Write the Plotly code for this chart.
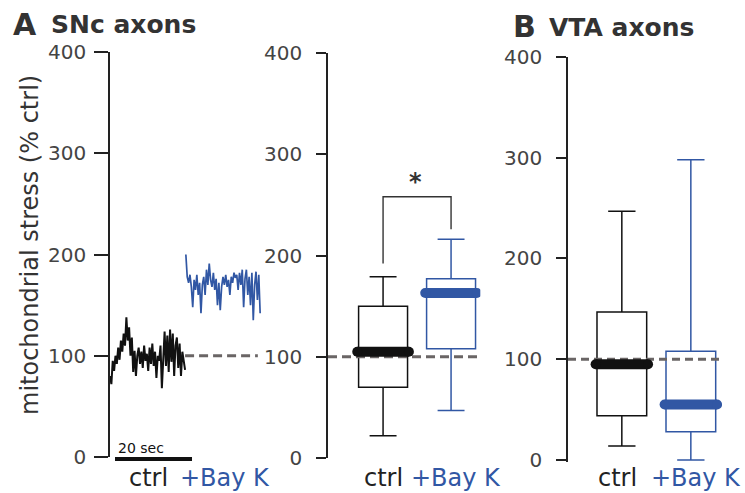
import plotly.graph_objects as go

# ---------------- data ----------------
# Panel A left: example traces (time in s, value in % ctrl)
ctrl_trace = [80, 72, 95, 85, 100, 92,
              108, 96, 115, 104, 122, 110, 138,
              115, 128, 100, 118, 84, 105,
              80, 100, 108, 92, 104, 88, 110, 95, 102, 85, 108, 92, 112, 90, 104, 78, 100, 95, 110, 68,
              98, 124, 90, 120, 84, 126, 94, 122, 80, 110, 118,
              88, 112, 80, 104, 92, 86]
bayk_trace = [200, 178, 172, 180, 168, 148,
              175, 165, 180, 160, 172, 142, 170,
              178, 160, 185, 170, 191, 175, 168,
              182, 165, 176, 150, 172, 145, 168,
              178, 170, 180, 168, 175, 160, 178, 172, 182,
              177, 180, 165, 182, 170, 185, 148,
              176, 185, 160, 178, 150, 182, 135,
              170, 183, 155, 180, 142]
ctrl_t_start, ctrl_t_end = 0.0, 19.5
bayk_t_start, bayk_t_end = 19.7, 39.0
ref_line_A_t = [19.5, 38.4]
scale_bar_t = [1.3, 21.3]
scale_bar_label = "20 sec"

# Box statistics
groups = ["ctrl", "+Bay K"]
snc_ctrl = dict(q1=70, median=105, q3=150, lowerfence=22, upperfence=179)
snc_bayk = dict(q1=108, median=163, q3=177, lowerfence=47, upperfence=216)
vta_ctrl = dict(q1=44, median=95, q3=147, lowerfence=14, upperfence=247)
vta_bayk = dict(q1=28, median=55, q3=108, lowerfence=0, upperfence=298)

sig_bracket_x = [0, 0, 1, 1]
sig_bracket_y = [192, 258, 258, 226]
sig_star_xy = (0.47, 273)

y_ticks = [0, 100, 200, 300, 400]
ref_value = 100

# ---------------- style ----------------
FONT = "DejaVu Sans, Liberation Sans, Arial, sans-serif"
BLACK = "#111111"
BLUE = "#3157a4"
GREY_DASH = "#6a6565"
TICK_COL = "#444444"
W, H = 745, 493

def px_x(p):
    return p / W

def px_y(p):
    return 1 - p / H

fig = go.Figure()

def tseries(vals, t0, t1):
    n = len(vals)
    return [t0 + (t1 - t0) * i / (n - 1) for i in range(n)]

# Panel A traces
fig.add_trace(go.Scatter(x=tseries(ctrl_trace, ctrl_t_start, ctrl_t_end), y=ctrl_trace,
                         mode="lines", line=dict(color=BLACK, width=2),
                         xaxis="x", yaxis="y", hoverinfo="skip"))
fig.add_trace(go.Scatter(x=tseries(bayk_trace, bayk_t_start, bayk_t_end), y=bayk_trace,
                         mode="lines", line=dict(color=BLUE, width=1.7),
                         xaxis="x", yaxis="y", hoverinfo="skip"))
fig.add_trace(go.Scatter(x=ref_line_A_t, y=[ref_value] * 2, mode="lines",
                         line=dict(color=GREY_DASH, width=3.2, dash="9px,5px"),
                         xaxis="x", yaxis="y", hoverinfo="skip"))

def add_box(stats, xpos, color, xa, ya):
    fig.add_trace(go.Box(x=[xpos], q1=[stats["q1"]], median=[stats["median"]], q3=[stats["q3"]],
                         lowerfence=[stats["lowerfence"]], upperfence=[stats["upperfence"]],
                         width=0.72, whiskerwidth=0.55, fillcolor="white",
                         line=dict(color=color, width=1.5), boxpoints=False,
                         xaxis=xa, yaxis=ya, hoverinfo="skip"))

def add_median(stats, xpos, color, xa, ya):
    fig.add_trace(go.Scatter(x=[xpos - 0.38, xpos + 0.38], y=[stats["median"]] * 2,
                             mode="lines+markers", line=dict(color=color, width=10),
                             marker=dict(color=color, size=10),
                             xaxis=xa, yaxis=ya, hoverinfo="skip"))

# Panel A boxes
add_box(snc_ctrl, 0, BLACK, "x2", "y2")
add_box(snc_bayk, 1, BLUE, "x2", "y2")
fig.add_trace(go.Scatter(x=[-0.81, 1.43], y=[ref_value] * 2, mode="lines",
                         line=dict(color=GREY_DASH, width=3.2, dash="9px,5px"),
                         xaxis="x2", yaxis="y2", hoverinfo="skip"))
add_median(snc_ctrl, 0, BLACK, "x2", "y2")
add_median(snc_bayk, 1, BLUE, "x2", "y2")
fig.add_trace(go.Scatter(x=sig_bracket_x, y=sig_bracket_y, mode="lines",
                         line=dict(color="#333333", width=1.4),
                         xaxis="x2", yaxis="y2", hoverinfo="skip"))

# Panel B boxes
add_box(vta_ctrl, 0, BLACK, "x3", "y3")
add_box(vta_bayk, 1, BLUE, "x3", "y3")
fig.add_trace(go.Scatter(x=[-0.78, 1.45], y=[ref_value] * 2, mode="lines",
                         line=dict(color=GREY_DASH, width=3.2, dash="8px,5px"),
                         xaxis="x3", yaxis="y3", hoverinfo="skip"))
add_median(vta_ctrl, 0, BLACK, "x3", "y3")
add_median(vta_bayk, 1, BLUE, "x3", "y3")

# ---------------- axes ----------------
def yax(domain, rng, ticklen, anchor, standoff):
    return dict(domain=domain, range=rng, anchor=anchor, showline=True, linecolor="#222222",
                linewidth=1.6, ticks="outside", ticklen=ticklen, tickwidth=1.6, tickcolor="#222222",
                tickvals=y_ticks, tickfont=dict(family=FONT, size=20, color=TICK_COL),
                showgrid=False, zeroline=False, fixedrange=True, ticklabelstandoff=standoff,
                automargin=False)

def xax(domain, rng, anchor):
    return dict(domain=domain, range=rng, anchor=anchor, visible=False, showgrid=False,
                zeroline=False, fixedrange=True, automargin=False)

fig.update_layout(
    template="none",
    width=W, height=H, autosize=False,
    margin=dict(l=0, r=0, t=0, b=0, pad=0, autoexpand=False),
    paper_bgcolor="white", plot_bgcolor="rgba(0,0,0,0)",
    showlegend=False,
    xaxis=xax([px_x(110), px_x(264)], [0, 40], "y"),
    yaxis=yax([px_y(457), px_y(52)], [0, 400], 14, "x", 4),
    xaxis2=xax([px_x(328), px_x(480.3)], [-0.81, 1.43], "y2"),
    yaxis2=yax([px_y(458), px_y(53)], [0, 400], 10, "x2", 10),
    xaxis3=xax([px_x(568), px_x(721.9)], [-0.78, 1.45], "y3"),
    yaxis3=yax([px_y(462), px_y(57)], [-2, 400], 10, "x3", 10),
)

# scale bar
fig.add_shape(type="line", xref="x", yref="paper", x0=scale_bar_t[0], x1=scale_bar_t[1],
              y0=px_y(459), y1=px_y(459), line=dict(color=BLACK, width=4))

ann = []
def text(x, y, s, size, color, xref="paper", yref="paper", xanchor="center", yanchor="middle",
         bold=False, angle=0):
    ann.append(dict(x=x, y=y, xref=xref, yref=yref, text=("<b>%s</b>" % s) if bold else s,
                    showarrow=False, xanchor=xanchor, yanchor=yanchor, textangle=angle,
                    font=dict(family=FONT, size=size, color=color)))

text(scale_bar_t[0] + 0.2, px_y(448), scale_bar_label, 14, BLACK, xref="x", xanchor="left")

# titles
text(px_x(11), px_y(24), "A", 30, "#333333", xanchor="left", bold=True)
text(px_x(49), px_y(25), "SNc axons", 25, "#333333", xanchor="left", bold=True)
text(px_x(511), px_y(27), "B", 30, "#333333", xanchor="left", bold=True)
text(px_x(547), px_y(28), "VTA axons", 25, "#333333", xanchor="left", bold=True)

# y title
text(px_x(30), px_y(245), "mitochondrial stress (% ctrl)", 24, "#333333", angle=-90)

# category labels
lab_y = px_y(478)
text(9.9, lab_y, groups[0], 24, "#222222", xref="x")
text(29.8, lab_y, groups[1], 24, BLUE, xref="x")
text(0, lab_y, groups[0], 24, "#222222", xref="x2")
text(1.07, lab_y, groups[1], 24, BLUE, xref="x2")
text(-0.07, lab_y, groups[0], 24, "#222222", xref="x3")
text(1.07, lab_y, groups[1], 24, BLUE, xref="x3")

# significance star
text(sig_star_xy[0], sig_star_xy[1], "<b>*</b>", 24, "#333333", xref="x2", yref="y2")

fig.update_layout(annotations=ann)

fig.write_html("out.html", config={"displayModeBar": False},
               post_script="document.body.style.margin='0';document.body.style.padding='0';")
